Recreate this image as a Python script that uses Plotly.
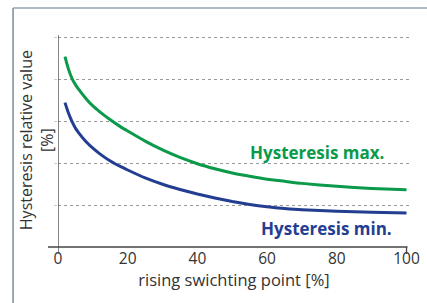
import plotly.graph_objects as go

# Data
x_pts = [2, 3, 4, 5, 6, 8, 10, 12, 15, 18, 20, 25, 30, 35, 40, 45, 50, 55, 60, 65, 70, 80, 90, 100]
hyst_max = [4.55, 4.25, 4.03, 3.88, 3.76, 3.55, 3.37, 3.23, 3.04, 2.87, 2.77, 2.53, 2.32, 2.14,
            1.99, 1.87, 1.77, 1.69, 1.62, 1.57, 1.52, 1.45, 1.40, 1.37]
hyst_min = [3.45, 3.20, 3.00, 2.84, 2.72, 2.52, 2.36, 2.225, 2.055, 1.92, 1.84, 1.65, 1.50, 1.375,
            1.265, 1.17, 1.085, 1.015, 0.96, 0.92, 0.89, 0.855, 0.83, 0.815]
x_ticks = [0, 20, 40, 60, 80, 100]
y_grid = [1, 2, 3, 4, 5]

GREEN = "#0a9a4a"
BLUE = "#233d90"
TEXT = "#333333"

fig = go.Figure()
fig.add_trace(go.Scatter(x=x_pts, y=hyst_max, mode="lines",
                         line=dict(color=GREEN, width=3, shape="spline", smoothing=0.5),
                         showlegend=False, hoverinfo="skip"))
fig.add_trace(go.Scatter(x=x_pts, y=hyst_min, mode="lines",
                         line=dict(color=BLUE, width=3, shape="spline", smoothing=0.5),
                         showlegend=False, hoverinfo="skip"))

W, H = 427, 303
ml, mr, mt, mb = 58, 16.5, 35, 56.3
pw, ph = W - ml - mr, H - mt - mb

def px_x(p):
    return (p - ml) / pw

def px_y(p):
    return (H - mb - p) / ph

fig.update_layout(
    width=W, height=H,
    margin=dict(l=ml, r=mr, t=mt, b=mb, autoexpand=False),
    paper_bgcolor="white", plot_bgcolor="white",
    font=dict(family="Open Sans, sans-serif", size=14, color=TEXT),
    xaxis=dict(range=[0, 101], tickvals=x_ticks, showgrid=False, zeroline=False,
               showline=False, ticks="", tickfont=dict(size=15.5, color=TEXT),
               automargin=False,
               title=dict(text="rising swichting point [%]", font=dict(size=16.5, color=TEXT),
                          standoff=2)),
    yaxis=dict(range=[0, 5.065], tickvals=y_grid, showticklabels=False,
               showgrid=True, gridcolor="#9a9a9a", gridwidth=1, griddash="3px,3px",
               zeroline=False, showline=False, ticks="outside", ticklen=3,
               tickcolor="#cccccc", automargin=False),
)

shapes = []
# outer frame (top and left)
shapes.append(dict(type="line", xref="paper", yref="paper",
                   x0=px_x(13), x1=px_x(W + 5), y0=px_y(8), y1=px_y(8),
                   line=dict(color="#9aa6b2", width=1.5)))
shapes.append(dict(type="line", xref="paper", yref="paper",
                   x0=px_x(13), x1=px_x(13), y0=px_y(8), y1=px_y(H + 5),
                   line=dict(color="#7a8a9a", width=1.5)))
# axis lines
shapes.append(dict(type="line", xref="paper", yref="paper",
                   x0=px_x(48), x1=px_x(408), y0=0, y1=0,
                   line=dict(color="#444444", width=1.3)))
shapes.append(dict(type="line", xref="x", yref="paper",
                   x0=x_ticks[0], x1=x_ticks[0], y0=px_y(H - mb + 7), y1=1,
                   line=dict(color="#444444", width=1.3)))
shapes.append(dict(type="line", xref="x", yref="paper",
                   x0=x_ticks[-1], x1=x_ticks[-1], y0=px_y(H - mb + 7), y1=0,
                   line=dict(color="#444444", width=1.3)))
fig.update_layout(shapes=shapes)

fig.add_annotation(xref="paper", yref="paper", x=px_x(317), y=px_y(152),
                   xanchor="center", yanchor="middle",
                   text="<b>Hysteresis max.</b>", showarrow=False,
                   font=dict(size=17, color=GREEN, family="Open Sans, sans-serif"))
fig.add_annotation(xref="paper", yref="paper", x=px_x(327), y=px_y(228),
                   xanchor="center", yanchor="middle",
                   text="<b>Hysteresis min.</b>", showarrow=False,
                   font=dict(size=17, color=BLUE, family="Open Sans, sans-serif"))
fig.add_annotation(xref="paper", yref="paper", x=px_x(36), y=px_y(140),
                   xanchor="center", yanchor="middle",
                   text="Hysteresis relative value<br>[%]", showarrow=False,
                   textangle=-90, font=dict(size=16, color=TEXT))

fig.write_html("out.html", config={"displayModeBar": False},
               post_script="document.body.style.margin='0';document.body.style.padding='0';")
